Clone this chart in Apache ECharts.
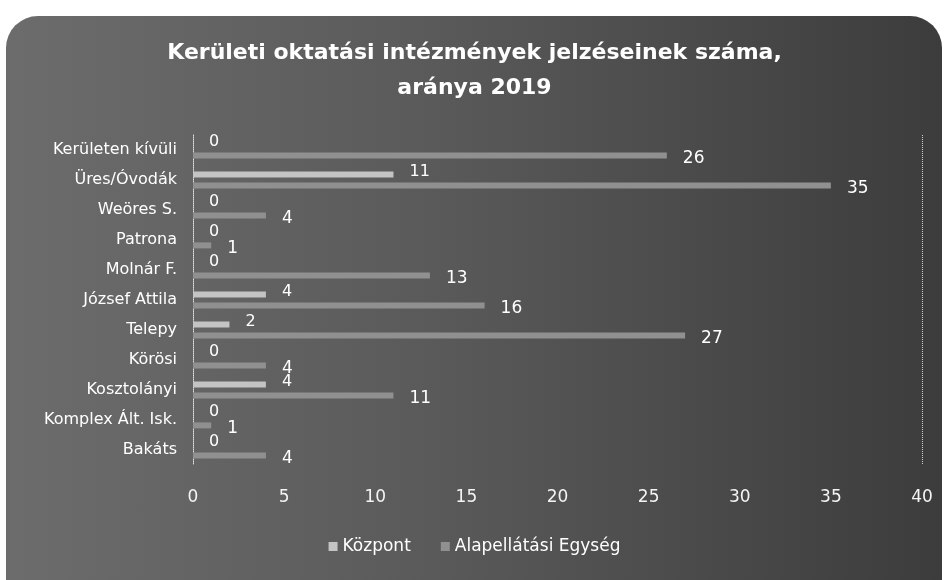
<!DOCTYPE html>
<html>
<head>
<meta charset="utf-8">
<script src="https://cdn.jsdelivr.net/npm/echarts@6/dist/echarts.min.js"></script>
<style>
  html, body { margin: 0; padding: 0; background: #fff; }
  #panel {
    position: absolute; left: 6px; top: 16px; width: 936px; height: 580px;
    border-radius: 32px 32px 0 0;
    background: linear-gradient(90deg, #6c6c6c 0%, #5a5a5a 45%, #3c3c3c 100%);
  }
  #chart { position: absolute; left: 0; top: 0; width: 949px; height: 580px; }
</style>
</head>
<body>
<div id="panel"></div>
<div id="chart"></div>
<script>
// categories, top to bottom
var categories = ['Kerületen kívüli', 'Üres/Óvodák', 'Weöres S.', 'Patrona', 'Molnár F.', 'József Attila', 'Telepy', 'Körösi', 'Kosztolányi', 'Komplex Ált. Isk.', 'Bakáts']
var kozpont = [0, 11, 0, 0, 0, 4, 2, 0, 4, 0, 0]
var alapellatas = [26, 35, 4, 1, 13, 16, 27, 4, 11, 1, 4]
var seriesNames = ['Központ', 'Alapellátási Egység']

var chart = echarts.init(document.getElementById('chart'))
var font = '"DejaVu Sans", sans-serif'

chart.setOption({
  backgroundColor: 'transparent',
  color: ['#c4c4c4', '#909090'],
  textStyle: { fontFamily: font },
  title: {
    text: 'Kerületi oktatási intézmények jelzéseinek száma,\naránya 2019',
    left: 'center',
    top: 31,
    textStyle: {
      color: '#fff',
      fontSize: 22,
      fontWeight: 'bold',
      lineHeight: 35,
      fontFamily: font
    }
  },
  grid: {
    left: 193,
    right: 27,
    top: 135,
    bottom: 115
  },
  legend: {
    data: seriesNames,
    bottom: 20,
    left: 'center',
    itemWidth: 9,
    itemHeight: 9,
    itemGap: 30,
    icon: 'rect',
    textStyle: { color: '#fff', fontSize: 17, fontFamily: font }
  },
  xAxis: {
    type: 'value',
    min: 0,
    max: 40,
    interval: 5,
    axisLine: { show: false },
    axisTick: { show: false },
    splitLine: { show: false },
    axisLabel: { color: '#f4f4f4', fontSize: 17, margin: 24, fontFamily: font }
  },
  yAxis: {
    type: 'category',
    data: categories,
    inverse: true,
    axisLine: {
      show: true,
      lineStyle: { color: '#e0e0e0', type: 'dotted', width: 1 }
    },
    axisTick: { show: false },
    axisLabel: { color: '#fff', fontSize: 16, margin: 16, fontFamily: font }
  },
  series: [
    {
      name: seriesNames[0],
      type: 'bar',
      data: kozpont,
      barWidth: 6,
      barGap: '80%',
      label: {
        show: true,
        position: 'right',
        distance: 16,
        offset: [0, -3],
        color: '#fff',
        fontSize: 16,
        fontFamily: font
      }
    },
    {
      name: seriesNames[1],
      type: 'bar',
      data: alapellatas,
      barWidth: 6,
      label: {
        show: true,
        position: 'right',
        distance: 16,
        offset: [0, 3],
        color: '#fff',
        fontSize: 17,
        fontFamily: font
      },
      markLine: {
        silent: true,
        symbol: 'none',
        label: { show: false },
        lineStyle: { color: '#d0d0d0', type: 'dotted', width: 1 },
        data: [{ xAxis: 40 }]
      }
    }
  ]
})
</script>
</body>
</html>
